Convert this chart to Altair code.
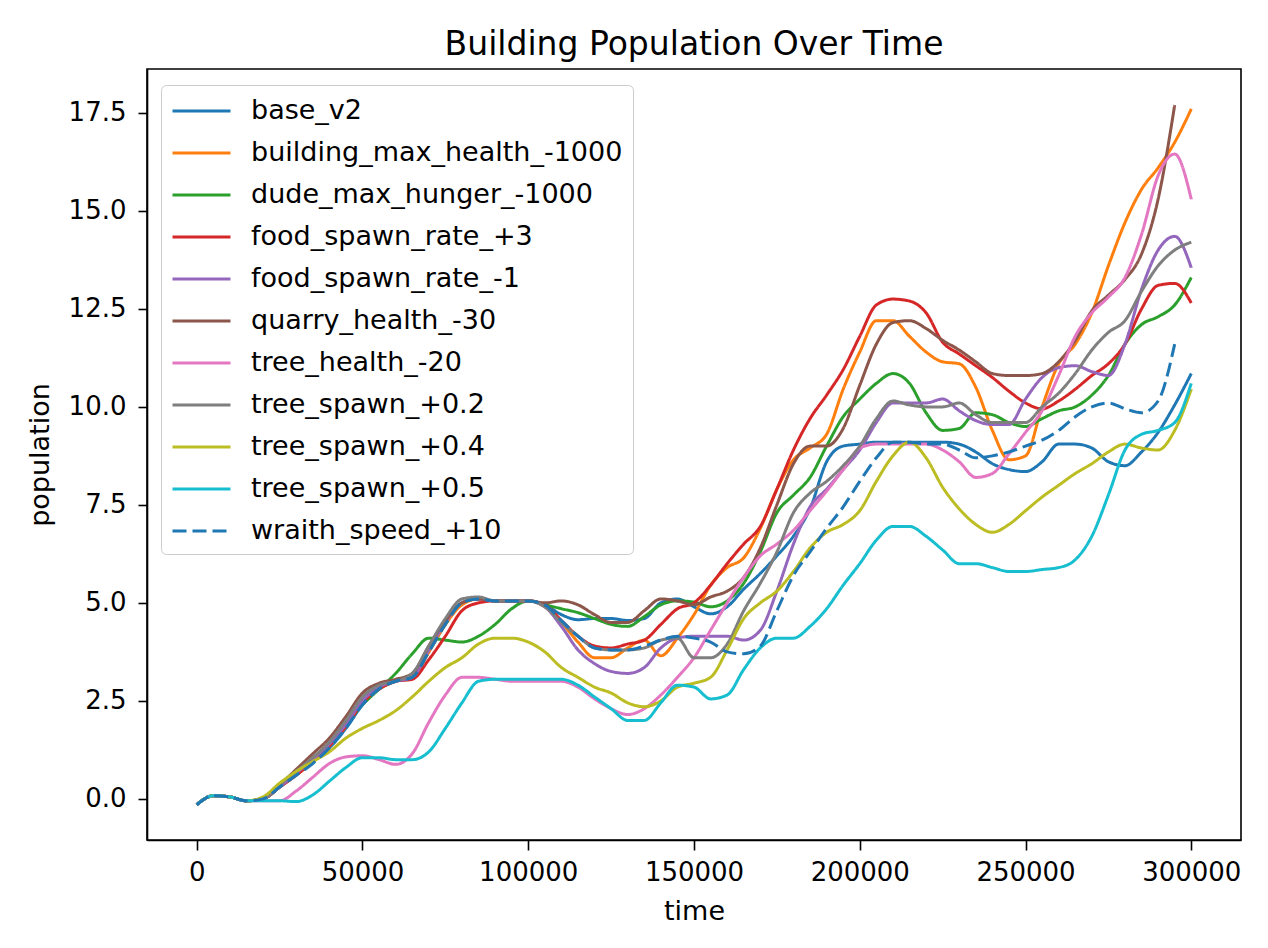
import altair as alt
import pandas as pd

# time grid (every 5000 steps)
TIME = list(range(0, 300001, 5000))

SERIES = ["base_v2", "building_max_health_-1000", "dude_max_hunger_-1000",
          "food_spawn_rate_+3", "food_spawn_rate_-1", "quarry_health_-30",
          "tree_health_-20", "tree_spawn_+0.2", "tree_spawn_+0.4",
          "tree_spawn_+0.5", "wraith_speed_+10"]
COLORS = ["#1f77b4", "#ff7f0e", "#2ca02c", "#d62728", "#9467bd", "#8c564b",
          "#e377c2", "#7f7f7f", "#bcbd22", "#17becf", "#1f77b4"]

base_v2 = [-0.15, 0.08, 0.05, -0.05, 0.0, 0.3, 0.62, 0.95, 1.3, 1.8, 2.4, 2.8, 3.0, 3.1, 3.75, 4.45,
           5.0, 5.1, 5.05, 5.05, 5.05, 4.95, 4.7, 4.57, 4.6, 4.6, 4.55, 4.6, 5.0, 5.1, 4.9, 4.72,
           4.9, 5.35, 5.75, 6.2, 6.7, 7.4, 8.6, 9.0, 9.05, 9.1, 9.1, 9.1, 9.1, 9.1, 9.05, 8.85,
           8.55, 8.4, 8.35, 8.6, 9.05, 9.05, 8.95, 8.6, 8.5, 8.85, 9.35, 10.05, 10.85]
building_max_health = [-0.15, 0.08, 0.05, -0.05, 0.0, 0.3, 0.62, 0.95, 1.35, 1.85, 2.45, 2.8, 3.0, 3.1,
                       3.75, 4.45, 4.95, 5.1, 5.05, 5.05, 5.05, 4.9, 4.5, 4.0, 3.6, 3.6, 3.85, 4.05,
                       3.65, 4.1, 4.7, 5.45, 5.9, 6.15, 6.9, 7.9, 8.65, 8.95, 9.3, 10.45, 11.4, 12.2,
                       12.2, 11.8, 11.4, 11.15, 11.1, 10.5, 9.4, 8.65, 8.75, 10.0, 11.1, 11.6, 12.4,
                       13.6, 14.7, 15.55, 16.1, 16.75, 17.6]
dude_max_hunger = [-0.15, 0.08, 0.05, -0.05, 0.0, 0.3, 0.65, 1.0, 1.4, 1.9, 2.4, 2.8, 3.2, 3.7, 4.1,
                   4.05, 4.0, 4.15, 4.45, 4.85, 5.05, 4.95, 4.85, 4.75, 4.6, 4.45, 4.4, 4.65, 4.95,
                   5.05, 5.02, 4.9, 5.05, 5.5, 6.3, 7.3, 7.75, 8.2, 9.0, 9.75, 10.2, 10.6, 10.85,
                   10.6, 9.85, 9.4, 9.45, 9.85, 9.8, 9.6, 9.5, 9.7, 9.9, 10.0, 10.3, 10.8, 11.6,
                   12.1, 12.3, 12.6, 13.3]
food_spawn_p3 = [-0.15, 0.08, 0.05, -0.05, 0.0, 0.3, 0.6, 0.95, 1.35, 1.85, 2.45, 2.8, 3.0, 3.05, 3.55,
                 4.15, 4.8, 5.0, 5.05, 5.05, 5.05, 4.95, 4.55, 4.15, 3.9, 3.85, 3.95, 4.05, 4.45,
                 4.85, 5.0, 5.45, 6.0, 6.5, 6.95, 7.9, 8.9, 9.7, 10.3, 10.95, 11.8, 12.6, 12.75,
                 12.7, 12.4, 11.65, 11.35, 11.05, 10.75, 10.4, 10.1, 9.95, 10.15, 10.45, 10.8,
                 11.1, 11.6, 12.5, 13.1, 13.15, 12.65]
food_spawn_m1 = [-0.15, 0.08, 0.05, -0.05, 0.0, 0.3, 0.65, 1.0, 1.4, 1.9, 2.5, 2.85, 3.0, 3.1, 3.8,
                 4.5, 5.0, 5.1, 5.05, 5.05, 5.05, 4.9, 4.4, 3.8, 3.45, 3.25, 3.2, 3.35, 3.85, 4.1,
                 4.15, 4.15, 4.15, 4.05, 4.3, 5.3, 6.5, 7.45, 7.9, 8.4, 8.9, 9.6, 10.1, 10.1, 10.1,
                 10.2, 9.9, 9.65, 9.55, 9.55, 10.2, 10.75, 11.0, 11.05, 10.9, 10.8, 11.6, 13.0,
                 14.0, 14.35, 13.55]
quarry_health = [-0.15, 0.08, 0.05, -0.05, 0.0, 0.35, 0.75, 1.15, 1.55, 2.1, 2.7, 2.95, 3.05, 3.2, 3.9,
                 4.55, 5.0, 5.1, 5.05, 5.05, 5.05, 5.0, 5.05, 4.95, 4.7, 4.5, 4.5, 4.8, 5.1, 5.05,
                 4.95, 5.15, 5.3, 5.65, 6.4, 7.5, 8.55, 9.0, 9.0, 9.45, 10.55, 11.6, 12.15, 12.2,
                 12.0, 11.7, 11.45, 11.15, 10.85, 10.8, 10.8, 10.85, 11.15, 11.7, 12.45, 12.85,
                 13.25, 13.9, 15.3, 17.7, None]
tree_health = [-0.15, 0.08, 0.05, -0.05, -0.05, -0.05, 0.2, 0.55, 0.9, 1.07, 1.1, 1.0, 0.88, 1.15, 1.95,
               2.65, 3.1, 3.1, 3.05, 3.0, 3.0, 3.0, 3.0, 2.85, 2.55, 2.3, 2.15, 2.3, 2.65, 3.1, 3.6,
               4.3, 5.0, 5.65, 6.2, 6.5, 6.85, 7.35, 7.85, 8.4, 8.95, 9.05, 9.05, 9.05, 9.05, 8.9,
               8.6, 8.2, 8.3, 8.8, 9.35, 9.9, 10.8, 11.8, 12.4, 12.8, 13.3, 14.4, 15.9, 16.45, 15.3]
tree_spawn_02 = [-0.15, 0.08, 0.05, -0.05, 0.0, 0.35, 0.7, 1.05, 1.45, 2.0, 2.6, 2.9, 3.0, 3.2, 3.9,
                 4.6, 5.1, 5.15, 5.05, 5.05, 5.05, 4.9, 4.5, 4.15, 3.85, 3.8, 3.8, 3.85, 4.05, 4.1,
                 3.6, 3.6, 3.95, 4.8, 5.5, 6.3, 7.3, 7.8, 8.1, 8.5, 9.0, 9.7, 10.15, 10.05, 10.0,
                 10.0, 10.1, 9.8, 9.6, 9.6, 9.6, 10.0, 10.35, 10.85, 11.45, 11.9, 12.2, 12.95,
                 13.6, 14.0, 14.2]
tree_spawn_04 = [-0.15, 0.08, 0.05, -0.05, 0.05, 0.4, 0.7, 0.95, 1.2, 1.55, 1.8, 2.0, 2.25, 2.6, 3.0,
                 3.35, 3.6, 3.95, 4.1, 4.1, 4.0, 3.75, 3.35, 3.1, 2.85, 2.7, 2.45, 2.35, 2.5, 2.85,
                 2.95, 3.1, 3.8, 4.6, 5.0, 5.3, 5.8, 6.4, 6.8, 7.0, 7.35, 8.1, 8.75, 9.1, 8.7, 7.95,
                 7.4, 7.0, 6.8, 7.0, 7.35, 7.7, 8.0, 8.3, 8.55, 8.85, 9.05, 8.95, 8.9, 9.4, 10.45]
tree_spawn_05 = [-0.15, 0.08, 0.05, -0.05, -0.05, -0.05, -0.07, 0.1, 0.45, 0.8, 1.05, 1.05, 1.0, 1.0,
                 1.2, 1.8, 2.45, 3.0, 3.05, 3.05, 3.05, 3.05, 3.05, 2.9, 2.6, 2.3, 2.0, 2.0, 2.45,
                 2.9, 2.85, 2.55, 2.65, 3.3, 3.85, 4.1, 4.1, 4.4, 4.85, 5.45, 6.0, 6.6, 6.95, 6.95,
                 6.7, 6.35, 6.0, 6.0, 5.9, 5.8, 5.8, 5.85, 5.9, 6.1, 6.7, 7.75, 8.9, 9.3, 9.4, 9.6,
                 10.6]
wraith_speed = [-0.15, 0.08, 0.05, -0.05, 0.0, 0.3, 0.6, 0.9, 1.3, 1.8, 2.4, 2.8, 3.0, 3.1, 3.75, 4.45,
                5.0, 5.1, 5.05, 5.05, 5.05, 4.95, 4.55, 4.15, 3.85, 3.8, 3.8, 3.9, 4.05, 4.15, 4.1,
                4.0, 3.75, 3.7, 3.9, 4.8, 5.7, 6.3, 6.9, 7.45, 8.1, 8.7, 9.1, 9.1, 9.05, 9.05, 8.9,
                8.7, 8.75, 8.85, 9.0, 9.15, 9.4, 9.75, 10.0, 10.1, 9.95, 9.85, 10.15, 11.6, None]

VALUES = [base_v2, building_max_health, dude_max_hunger, food_spawn_p3, food_spawn_m1,
          quarry_health, tree_health, tree_spawn_02, tree_spawn_04, tree_spawn_05, wraith_speed]

rows = []
for order, (name, vals) in enumerate(zip(SERIES, VALUES)):
    for t, v in zip(TIME, vals):
        if v is not None:
            rows.append({"time": t, "population": v, "series": name, "order": order})
df = pd.DataFrame(rows)

DASHES = [[1, 0]] * 10 + [[14, 6]]

FONT = "DejaVu Sans"

legend = alt.Legend(
    title=None, orient="none", legendX=14, legendY=16,
    symbolType="M-1,0L3,0", symbolSize=841, symbolStrokeWidth=3,
    labelFontSize=27, labelFont=FONT, labelColor="#000", labelOffset=48,
    rowPadding=13, padding=10, strokeColor="#cccccc", fillColor="#ffffff",
    cornerRadius=5, labelLimit=600,
)

chart = alt.Chart(df).mark_line(strokeWidth=3, interpolate="monotone").encode(
    x=alt.X("time:Q", title="time",
            scale=alt.Scale(domain=[-15000, 315000], nice=False, zero=False),
            axis=alt.Axis(values=[0, 50000, 100000, 150000, 200000, 250000, 300000],
                          format="d", tickSize=10, labelPadding=9, titlePadding=13)),
    y=alt.Y("population:Q", title="population",
            scale=alt.Scale(domain=[-1.05, 18.62], nice=False, zero=False),
            axis=alt.Axis(values=[0, 2.5, 5, 7.5, 10, 12.5, 15, 17.5], format=".1f",
                          tickSize=9, labelPadding=12, titlePadding=14)),
    color=alt.Color("series:N", scale=alt.Scale(domain=SERIES, range=COLORS), legend=legend),
    strokeDash=alt.StrokeDash("series:N", scale=alt.Scale(domain=SERIES, range=DASHES), legend=legend),
    order=alt.Order("order:Q"),
    detail="series:N",
).properties(
    width=1094, height=771,
    title=alt.TitleParams("Building Population Over Time", fontSize=33, font=FONT,
                          fontWeight="normal", color="#000", anchor="middle", offset=7),
    autosize=alt.AutoSizeParams(type="none"),
    padding={"left": 139, "top": 61, "right": 10, "bottom": 100},
).configure_view(
    stroke="#000", strokeWidth=1.6
).configure_axis(
    grid=False, labelFont=FONT, labelFontSize=26, labelColor="#000",
    titleFont=FONT, titleFontSize=27, titleFontWeight="normal", titleColor="#000",
    tickColor="#000", tickWidth=1.6, domainColor="#000", domainWidth=1.6,
)

chart.save("out.html", embed_options={"renderer": "svg", "actions": False})
